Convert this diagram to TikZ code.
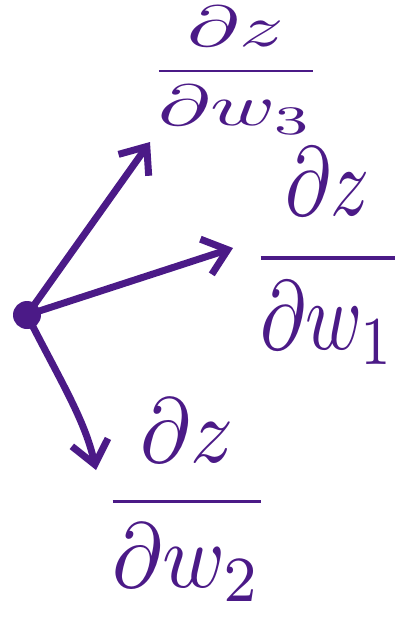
\documentclass[tikz,border=0pt]{standalone}
\usepackage{graphicx}
\usetikzlibrary{arrows.meta}
\definecolor{inkPurple}{HTML}{4B1A87}
\tikzset{
  gradArrow/.style={-{Straight Barb[length=8mm, width=13mm]}, inkPurple, line width=7pt,
                    line cap=round},
  gradLabel/.style={text=inkPurple, inner sep=0pt},
}
% gradient label: subscript, horizontal and vertical scale
\newcommand{\gradfrac}[3]{\scalebox{#2}[#3]{$\displaystyle\frac{\partial z}{\partial w_{#1}}$}}
\begin{document}
\begin{tikzpicture}[x=1pt, y=-1pt]
    \useasboundingbox (0,0) rectangle (400,621);
    \fill[inkPurple] (27,315) circle (14pt);
    \coordinate (dot) at (27,315);
    \coordinate (tip3) at (150,142);
    \coordinate (tip1) at (233,248);
    \coordinate (tip2) at (96,470);
    \node[gradLabel] (grad3) at (236,70) {\gradfrac{3}{8.8}{5.8}};
    \node[gradLabel] (grad1) at (328,256) {\gradfrac{1}{7.7}{9.8}};
    \node[gradLabel] (grad2) at (187,500) {\gradfrac{2}{8.5}{9.2}};
    \draw[gradArrow] (dot) -- (tip3);
    \draw[gradArrow] (dot) -- (tip1);
    \draw[gradArrow] (dot) .. controls (60,380) and (85,420) .. (tip2);
  \end{tikzpicture}
\end{document}
